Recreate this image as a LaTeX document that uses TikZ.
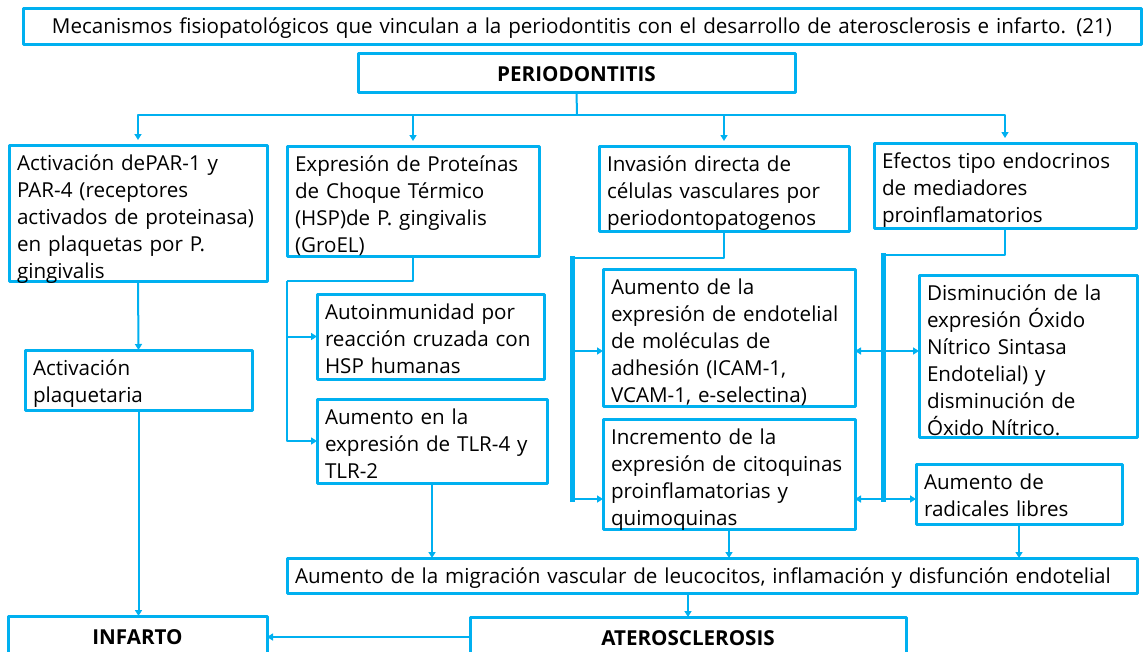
\documentclass[tikz,border=0pt]{standalone}
\usepackage{fontspec}
\setmainfont{Open Sans}
\usetikzlibrary{arrows.meta}
\definecolor{cielo}{HTML}{00B0F0}

\begin{document}
\begin{tikzpicture}[x=1pt, y=-1pt,
				line join=round,
				every node/.style = {inner sep=0pt, outer sep=0pt, font=\fontsize{20.6}{27}\selectfont},
				caja/.style = {draw=cielo, line width=3pt, anchor=north west, align=left,
					inner xsep=8pt, inner ysep=7pt, text height=18pt},
				titular/.style = {caja, align=center, text height=21pt, text depth=5pt,
					font=\fontsize{20.6}{27}\selectfont\bfseries},
				lin/.style = {draw=cielo, line width=2pt},
				flecha/.style = {lin, -{Triangle[width=7pt,length=6pt]}},
				doble/.style = {lin, {Triangle[width=7pt,length=6pt]}-{Triangle[width=7pt,length=6pt]}},
				grueso/.style = {draw=cielo, line width=5pt, line cap=rect}
				]
				\useasboundingbox (0,0) rectangle (1143,651);
				\clip (0,0) rectangle (1143,651);

				\node[caja, align=center, text width=1102pt, text depth=4pt] (titulo) at (23,8)
					{Mecanismos fisiopatológicos que vinculan a la periodontitis con el desarrollo de aterosclerosis e infarto. (21)};
				\node[titular, text width=421pt, text depth=4pt] (perio) at (358,53) {PERIODONTITIS};

				\node[caja, text width=242pt, text depth=104pt] (b1) at (9,145)
					{Activación dePAR-1 y\\PAR-4 (receptores\\activados de proteinasa)\\en plaquetas por P.\\gingivalis};
				\node[caja, text width=236pt, text depth=78pt] (b2) at (287,146)
					{Expresión de Proteínas\\de Choque Térmico\\(HSP)de P. gingivalis\\(GroEL)};
				\node[caja, text width=234pt, text depth=53pt] (b3) at (599,146)
					{Invasión directa de\\células vasculares por\\periodontopatogenos};
				\node[caja, text width=246pt, text depth=53pt] (b4) at (874,143)
					{Efectos tipo endocrinos\\de mediadores\\proinflamatorios};

				\node[caja, text width=211pt, text depth=28pt] (b5) at (25,350)
					{Activación\\plaquetaria};
				\node[caja, text width=211pt, text depth=53pt] (b6) at (317,294)
					{Autoinmunidad por\\reacción cruzada con\\HSP humanas};
				\node[caja, text width=214pt, text depth=52pt] (b7) at (317,399)
					{Aumento en la\\expresión de TLR-4 y\\TLR-2};
				\node[caja, text width=236pt, text depth=105pt] (b8) at (603,269)
					{Aumento de la\\expresión de endotelial\\de moléculas de\\adhesión (ICAM-1,\\VCAM-1, e-selectina)};
				\node[caja, text width=236pt, text depth=78pt] (b9) at (603,419)
					{Incremento de la\\expresión de citoquinas\\proinflamatorias y\\quimoquinas};
				\node[caja, text width=202pt, text depth=130pt] (b10) at (919,275)
					{Disminución de la\\expresión Óxido\\Nítrico Sintasa\\Endotelial) y\\disminución de\\Óxido Nítrico.};
				\node[caja, text width=190pt, text depth=28pt] (b11) at (916,464)
					{Aumento de\\radicales libres};

				\node[caja, text width=834pt, text depth=3pt] (mig) at (287,558)
					{Aumento de la migración vascular de leucocitos, inflamación y disfunción endotelial};
				\node[titular, text width=420pt] (atero) at (470,617) {ATEROSCLEROSIS};
				\node[titular, text width=243pt] (infarto) at (8,616) {INFARTO};

				\coordinate (barra) at (577,115);
				\draw[lin] (perio.south) -- (barra);
				\draw[flecha, shorten >=5pt] (barra) -| (b1.north);
				\draw[flecha, shorten >=5pt] (barra) -| (b2.north);
				\draw[flecha, shorten >=5pt] (barra) -| (b3.north);
				\draw[flecha, shorten >=5pt] (barra) -| (b4.north);

				\draw[flecha] (b1.south) -- (b5.north);
				\draw[flecha] (b5.south) -- (b5.south |- infarto.north);

				\coordinate (hsp) at (287,281);
				\draw[lin] (b2.south) |- (hsp);
				\draw[flecha] (hsp) |- (b7.west);
				\draw[flecha] (hsp |- b6.west) -- (b6.west);
				\draw[flecha] (b7.south) -- (b7.south |- mig.north);

				\coordinate (invA) at (572,258);
				\coordinate (inv1) at (572,351);
				\coordinate (inv2) at (572,499);
				\draw[lin] (b3.south) |- (invA);
				\draw[grueso] (invA) -- (inv2);
				\draw[flecha] (inv1) -- (inv1 -| b8.west);
				\draw[flecha] (inv2) -- (inv2 -| b9.west);

				\coordinate (endA) at (883,255);
				\coordinate (end1) at (883,351);
				\coordinate (end2) at (883,499);
				\draw[lin] (b4.south) |- (endA);
				\draw[grueso] (endA) -- (end2);
				\draw[doble] (end1 -| b8.east) -- (end1 -| b10.west);
				\draw[doble] (end2 -| b9.east) -- (end2 -| b11.west);

				\draw[flecha] (b9.south) -- (b9.south |- mig.north);
				\draw[flecha] (b11.south) -- (b11.south |- mig.north);
				\draw[flecha] (atero.north |- mig.south) -- (atero.north);
				\draw[flecha] (atero.west) -- (atero.west -| infarto.east);
\end{tikzpicture}
\end{document}
